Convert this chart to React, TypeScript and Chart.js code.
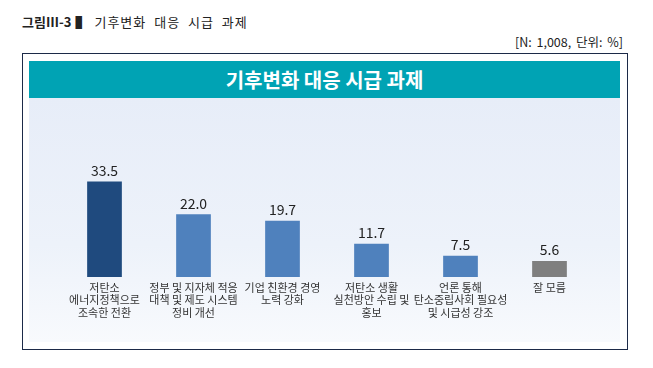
import React, { useEffect, useRef } from "react";
import { Chart, registerables } from "chart.js";

Chart.register(...registerables);

const categories: string[][] = [
  ["저탄소", "에너지정책으로", "조속한 전환"],
  ["정부 및 지자체 적응", "대책 및 제도 시스템", "정비 개선"],
  ["기업 친환경 경영", "노력 강화"],
  ["저탄소 생활", "실천방안 수립 및", "홍보"],
  ["언론 통해", "탄소중립사회 필요성", "및 시급성 강조"],
  ["잘 모름"],
];
const values: number[] = [33.5, 22.0, 19.7, 11.7, 7.5, 5.6];
const barColors: string[] = ["#1f4a7e", "#4f81bd", "#4f81bd", "#4f81bd", "#4f81bd", "#7f7f7f"];

const figureTitle = "그림Ⅲ-3";
const chartTitle = "기후변화 대응 시급 과제";
const noteText = "[N: 1,008, 단위: %]";

const FONT = "'Noto Sans CJK KR', 'Noto Sans', sans-serif";

const valueLabelPlugin = {
  id: "valueLabels",
  afterDatasetsDraw(chart: any) {
    const ctx = chart.ctx;
    const meta = chart.getDatasetMeta(0);
    ctx.save();
    ctx.font = `14px ${FONT}`;
    ctx.fillStyle = "#222222";
    ctx.textAlign = "center";
    ctx.textBaseline = "bottom";
    meta.data.forEach((bar: any, i: number) => {
      ctx.fillText(values[i].toFixed(1), bar.x, bar.y - 4);
    });
    ctx.restore();
  },
};

export default function App() {
  const canvasRef = useRef<HTMLCanvasElement | null>(null);

  useEffect(() => {
    if (!canvasRef.current) return;
    const chart = new Chart(canvasRef.current, {
      type: "bar",
      data: {
        labels: categories,
        datasets: [
          {
            data: values,
            backgroundColor: barColors,
            borderWidth: 0,
            barPercentage: 0.39,
            categoryPercentage: 1,
          },
        ],
      },
      options: {
        animation: false,
        responsive: false,
        maintainAspectRatio: false,
        layout: { padding: { left: 31, right: 26, top: 65, bottom: 0 } },
        plugins: {
          legend: { display: false },
          tooltip: { enabled: false },
          title: { display: false },
        },
        scales: {
          x: {
            grid: { display: false, drawTicks: false },
            border: { display: false },
            ticks: {
              padding: 4,
              color: "#333333",
              font: { size: 11, family: FONT, lineHeight: 1.15 },
              maxRotation: 0,
              autoSkip: false,
            },
            afterFit(scale: any) {
              scale.height = 65;
            },
          },
          y: {
            display: false,
            min: 0,
            max: 40,
          },
        },
      },
      plugins: [valueLabelPlugin],
    });
    return () => chart.destroy();
  }, []);

  return (
    <div
      style={{
        position: "absolute",
        left: 0,
        top: 0,
        width: 653,
        height: 368,
        background: "#ffffff",
        fontFamily: FONT,
        overflow: "hidden",
      }}
    >
      <div
        style={{
          position: "absolute",
          left: 22,
          top: 13,
          fontSize: 13,
          color: "#222",
          whiteSpace: "nowrap",
          lineHeight: "18px",
        }}
      >
        <span style={{ fontWeight: 700 }}>{figureTitle}</span>
        <span style={{ fontWeight: 700, marginLeft: 4 }}>▌</span>
        <span style={{ marginLeft: 6, letterSpacing: 1, wordSpacing: 4 }}>{chartTitle}</span>
      </div>
      <div
        style={{
          position: "absolute",
          right: 30,
          top: 33,
          fontSize: 12.5,
          color: "#222",
          whiteSpace: "nowrap",
          lineHeight: "18px",
          wordSpacing: 2,
        }}
      >
        {noteText}
      </div>
      <div
        style={{
          position: "absolute",
          left: 22,
          top: 53,
          width: 606,
          height: 297,
          border: "1.5px solid #1c2a48",
          boxSizing: "border-box",
          background: "#ffffff",
        }}
      />
      <div
        style={{
          position: "absolute",
          left: 29,
          top: 61,
          width: 591,
          height: 37,
          background: "#00a3b4",
          color: "#ffffff",
          fontSize: 20,
          fontWeight: 700,
          textAlign: "center",
          lineHeight: "37px",
        }}
      >
        {chartTitle}
      </div>
      <div
        style={{
          position: "absolute",
          left: 29,
          top: 98,
          width: 591,
          height: 244,
          background: "linear-gradient(#e7edf8 0%, #edf2fa 60%, #f8fafd 100%)",
        }}
      >
        <canvas ref={canvasRef} width={591} height={244} style={{ display: "block" }} />
      </div>
    </div>
  );
}
